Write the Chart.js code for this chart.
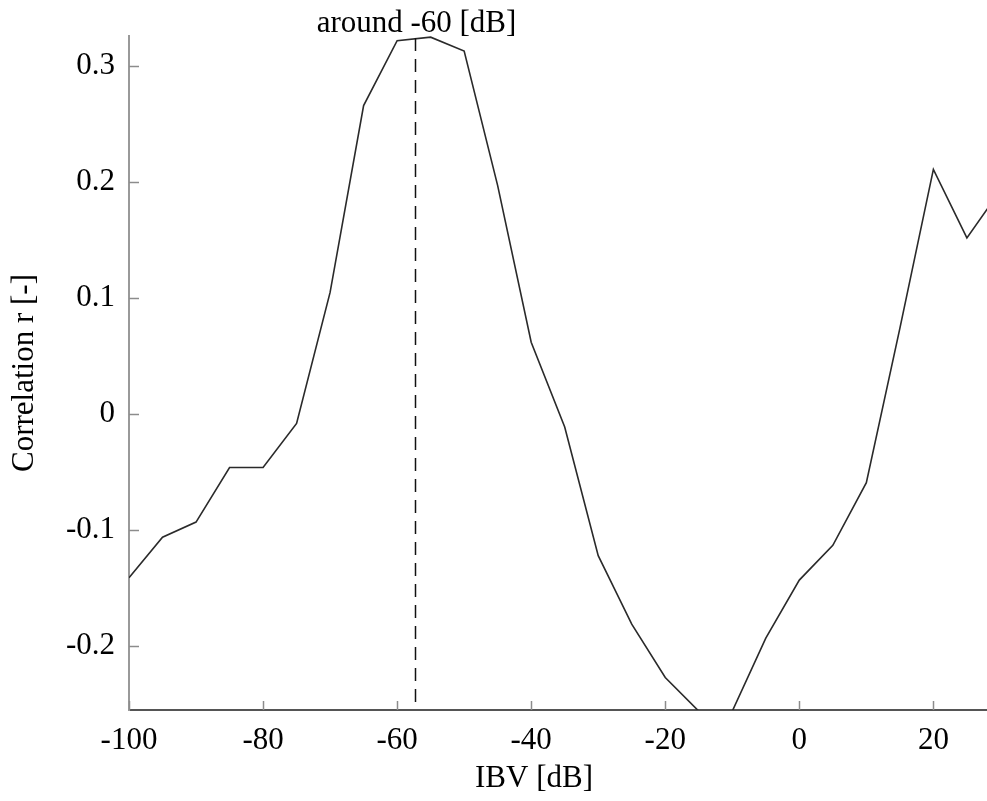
<!DOCTYPE html>
<html>
<head>
<meta charset="utf-8">
<script src="https://cdn.jsdelivr.net/npm/chart.js@4/dist/chart.umd.min.js"></script>
<style>
  html, body { margin: 0; padding: 0; background: #fff; }
  #wrap { width: 987px; height: 801px; }
</style>
</head>
<body>
<div id="wrap"><canvas id="chart" width="987" height="801"></canvas></div>
<script>
// IBV values in dB, one reading every 5 dB
var ibv = [-100, -95, -90, -85, -80, -75, -70, -65, -60, -55, -50, -45, -40, -35,
           -30, -25, -20, -15, -10, -5, 0, 5, 10, 15, 20, 25, 30];
// correlation r
var corr = [-0.141, -0.106, -0.093, -0.046, -0.046, -0.008, 0.105, 0.266, 0.322, 0.325,
            0.313, 0.197, 0.062, -0.011, -0.122, -0.181, -0.227, -0.256, -0.256, -0.193,
            -0.143, -0.113, -0.059, 0.074, 0.211, 0.152, 0.193];

var markerIbv = -57.3;
var markerText = 'around -60 [dB]';
var xTitle = 'IBV [dB]';
var yTitle = 'Correlation r [-]';

var FONT = '"Liberation Serif", "Times New Roman", serif';

var points = ibv.map(function (x, i) { return { x: x, y: corr[i] }; });

// ticks that point into the plot, the dashed marker and its label, the x title
var decorPlugin = {
    id: 'decor',
    afterDraw: function (chart) {
        var ctx = chart.ctx;
        var area = chart.chartArea;
        var xs = chart.scales.x;
        var ys = chart.scales.y;

        ctx.save();
        ctx.strokeStyle = '#8c8c8c';
        ctx.lineWidth = 1.5;
        xs.ticks.forEach(function (t) {
            var px = Math.round(xs.getPixelForValue(t.value)) + 0.5;
            ctx.beginPath();
            ctx.moveTo(px, area.bottom);
            ctx.lineTo(px, area.bottom - 9);
            ctx.stroke();
        });
        ys.ticks.forEach(function (t) {
            var py = Math.round(ys.getPixelForValue(t.value)) + 0.5;
            ctx.beginPath();
            ctx.moveTo(area.left, py);
            ctx.lineTo(area.left + 10, py);
            ctx.stroke();
        });

        var mx = Math.round(xs.getPixelForValue(markerIbv)) + 0.5;
        ctx.strokeStyle = '#111';
        ctx.lineWidth = 1.5;
        ctx.setLineDash([13, 8]);
        ctx.beginPath();
        ctx.moveTo(mx, area.top + 2);
        ctx.lineTo(mx, area.bottom);
        ctx.stroke();
        ctx.setLineDash([]);

        ctx.fillStyle = '#000';
        ctx.font = '31px ' + FONT;
        ctx.textAlign = 'center';
        ctx.textBaseline = 'alphabetic';
        ctx.fillText(markerText, mx + 1, 32);
        ctx.fillText(xTitle, 534, 787);
        ctx.restore();
    }
};

new Chart(document.getElementById('chart'), {
    type: 'line',
    data: {
        datasets: [{
            data: points,
            borderColor: '#2a2a2a',
            borderWidth: 1.6,
            pointRadius: 0,
            tension: 0,
            fill: false
        }]
    },
    options: {
        responsive: false,
        animation: false,
        events: [],
        layout: { padding: { top: 36, right: 0, left: 0, bottom: 0 } },
        plugins: {
            legend: { display: false },
            tooltip: { enabled: false }
        },
        scales: {
            x: {
                type: 'linear',
                min: -100,
                max: 28,
                grid: { display: false, drawTicks: false },
                border: { display: true, color: '#555', width: 2 },
                ticks: {
                    stepSize: 20,
                    includeBounds: false,
                    maxRotation: 0,
                    padding: 12,
                    color: '#000',
                    font: { family: FONT, size: 31 }
                },
                afterFit: function (scale) { scale.height = 91; }
            },
            y: {
                type: 'linear',
                min: -0.255,
                max: 0.326,
                grid: { display: false, drawTicks: false },
                border: { display: true, color: '#999', width: 2 },
                ticks: {
                    stepSize: 0.1,
                    includeBounds: false,
                    padding: 14,
                    color: '#000',
                    font: { family: FONT, size: 31 },
                    callback: function (v) { return String(Math.round(v * 10) / 10); }
                },
                title: {
                    display: true,
                    text: yTitle,
                    color: '#000',
                    font: { family: FONT, size: 31 },
                    padding: { top: 6, bottom: 0 }
                },
                afterFit: function (scale) { scale.width = 129; }
            }
        }
    },
    plugins: [decorPlugin]
});
</script>
</body>
</html>
